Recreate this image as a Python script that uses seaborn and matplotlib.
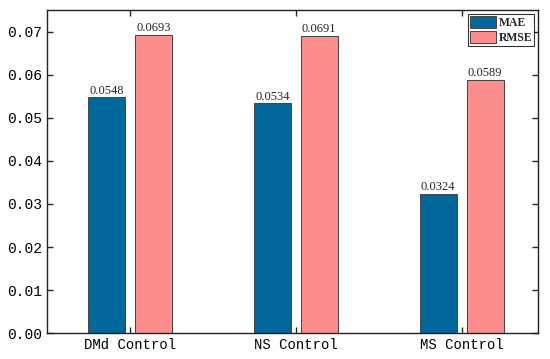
import matplotlib
matplotlib.use('Agg')
import matplotlib.pyplot as plt
import pandas as pd
import seaborn as sns

# Dados
categories = ['DMd Control', 'NS Control', 'MS Control']
mae = [0.0548, 0.0534, 0.0324]
rmse = [0.0693, 0.0691, 0.0589]
yticks = [0.00, 0.01, 0.02, 0.03, 0.04, 0.05, 0.06, 0.07]

df = pd.DataFrame({
    'cat': categories * 2,
    'metric': ['MAE'] * 3 + ['RMSE'] * 3,
    'value': mae + rmse,
})

sns.set_style('ticks')
plt.rcParams['font.family'] = ['Liberation Serif', 'DejaVu Serif']

fig = plt.figure(figsize=(5.5, 3.59), dpi=100)
ax = fig.add_axes([0.0855, 0.0724, 0.8925, 0.8996])

sns.barplot(data=df, x='cat', y='value', hue='metric', order=categories,
            palette={'MAE': '#02679A', 'RMSE': '#FD8C8C'}, saturation=1,
            width=0.566, gap=0.21, edgecolor='#444444', linewidth=0.7,
            errorbar=None, ax=ax)

# Rótulos de valor em cima das barras
for cont in ax.containers:
    ax.bar_label(cont, fmt='%.4f', fontsize=9, padding=0.5)

ax.set_xlim(-0.5, 2.46)
ax.set_ylim(0, 0.0751)
ax.set_yticks(yticks)
ax.set_yticklabels(['%.2f' % t for t in yticks], family='Liberation Mono', fontsize=10.5)
ax.set_xticks(range(len(categories)))
ax.set_xticklabels(categories, family='Liberation Mono', fontsize=10)
ax.set_xlabel('')
ax.set_ylabel('')

ax.tick_params(direction='in', top=True, right=True, length=4, width=1, labelcolor='black')
for s in ax.spines.values():
    s.set_linewidth(1)
    s.set_color('#222222')

leg = ax.legend(loc='upper right', prop={'size': 8.5, 'weight': 'bold'}, frameon=True,
                fancybox=False, edgecolor='black', handlelength=2.2, handleheight=1.2,
                handletextpad=0.2, borderpad=0.2, labelspacing=0.15,
                borderaxespad=0.3)
leg.get_frame().set_linewidth(0.8)

fig.savefig('out.png', dpi=100)
